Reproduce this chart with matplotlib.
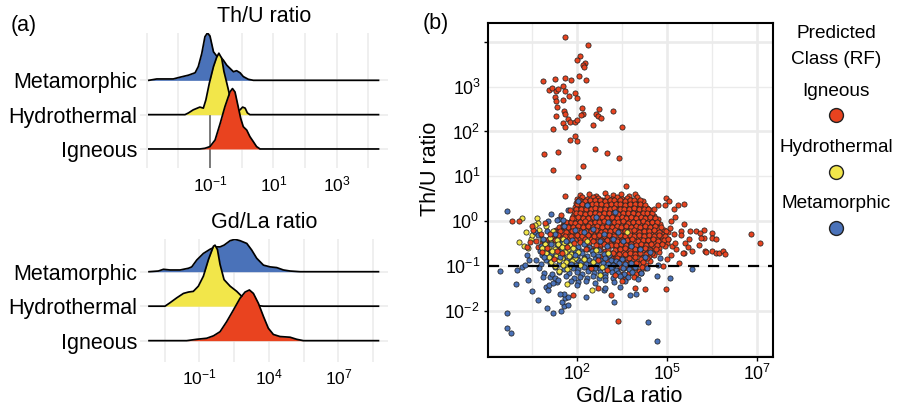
import matplotlib
matplotlib.use('Agg')
import matplotlib.pyplot as plt
import numpy as np
from matplotlib.ticker import FixedLocator, FixedFormatter, NullFormatter

plt.rcParams['font.family'] = ['Liberation Sans', 'DejaVu Sans']
plt.rcParams['mathtext.fontset'] = 'custom'
plt.rcParams['mathtext.rm'] = 'Liberation Sans'
plt.rcParams['mathtext.it'] = 'Liberation Sans:italic'
plt.rcParams['mathtext.bf'] = 'Liberation Sans:bold'
plt.rcParams['mathtext.sf'] = 'Liberation Sans'

W, H = 899, 409

classes = ['Igneous', 'Hydrothermal', 'Metamorphic']
colors = {'Igneous': '#E9431F', 'Hydrothermal': '#F2E64A', 'Metamorphic': '#4A72B9'}

# ---- ridge densities, Th/U (x = log10 ratio, h = height in row units)
thu_x_meta = [-2.93, -2.68, -2.16, -1.95, -1.68, -1.47, -1.37, -1.26, -1.16, -1.08, -1.00, -0.89,
              -0.79, -0.68, -0.58, -0.47, -0.37, -0.26, -0.16, -0.05, 0.05, 0.21, 0.37, 4.32]
thu_h_meta = [0.00, 0.04, 0.04, 0.09, 0.15, 0.22, 0.40, 0.78, 1.27, 1.38, 1.29, 0.83,
              0.71, 0.69, 0.59, 0.44, 0.35, 0.25, 0.28, 0.22, 0.11, 0.03, 0.00, 0.00]
thu_x_hydro = [-2.93, -1.79, -1.68, -1.53, -1.32, -1.21, -1.13, -1.02, -0.89, -0.79, -0.72, -0.63,
               -0.56, -0.47, -0.37, -0.26, -0.14, -0.05, 0.03, 0.11, 0.18, 0.26, 4.32]
thu_h_hydro = [0.00, 0.00, 0.05, 0.14, 0.22, 0.19, 0.43, 0.92, 1.40, 1.67, 1.79, 1.64,
               1.26, 0.92, 0.53, 0.24, 0.10, 0.14, 0.22, 0.19, 0.05, 0.00, 0.00]
thu_x_ign = [-2.93, -1.32, -1.16, -1.00, -0.84, -0.68, -0.53, -0.37, -0.29, -0.21, -0.11, -0.03,
             0.05, 0.16, 0.26, 0.37, 0.47, 0.58, 4.32]
thu_h_ign = [0.00, 0.00, 0.02, 0.07, 0.26, 0.74, 1.23, 1.66, 1.76, 1.66, 1.23, 0.89,
             0.65, 0.55, 0.36, 0.21, 0.07, 0.00, 0.00]

# ---- ridge densities, Gd/La
gd_x_meta = [-3.90, -3.36, -3.07, -2.69, -2.11, -1.63, -1.44, -1.15, -0.77, -0.39, -0.10, 0.19, 0.42,
             0.77, 1.05, 1.34, 1.73, 2.01, 2.30, 2.69, 3.07, 3.45, 3.84, 4.22, 4.80, 9.31]
gd_h_meta = [0.00, 0.02, 0.07, 0.05, 0.05, 0.10, 0.14, 0.34, 0.53, 0.65, 0.72, 0.72, 0.77,
             0.90, 0.94, 0.90, 0.82, 0.63, 0.39, 0.19, 0.14, 0.12, 0.05, 0.02, 0.00, 0.00]
gd_x_hydro = [-3.90, -2.98, -2.69, -2.31, -1.92, -1.63, -1.35, -1.06, -0.77, -0.48, -0.19, -0.10,
              0.04, 0.19, 0.42, 0.77, 1.15, 1.53, 1.92, 2.30, 2.69, 9.31]
gd_h_hydro = [0.00, 0.00, 0.10, 0.24, 0.37, 0.41, 0.43, 0.58, 0.87, 1.35, 1.74, 1.77,
              1.64, 1.21, 0.77, 0.58, 0.43, 0.24, 0.10, 0.02, 0.00, 0.00]
gd_x_ign = [-3.90, -1.73, -1.15, -0.58, -0.19, 0.19, 0.57, 0.96, 1.34, 1.63, 1.88, 2.11, 2.40,
            2.69, 2.97, 3.26, 3.64, 4.22, 4.60, 4.99, 9.31]
gd_h_ign = [0.00, 0.00, 0.04, 0.07, 0.14, 0.26, 0.55, 0.89, 1.23, 1.41, 1.47, 1.37, 1.08,
            0.70, 0.36, 0.18, 0.12, 0.10, 0.04, 0.00, 0.00]

thu_ticks = [-3, -2, -1, 0, 1, 2, 3, 4]
thu_labels = ['', '', r'$10^{-1}$', '', r'$10^{1}$', '', r'$10^{3}$', '']
gd_ticks = [-3, -1, 1, 3, 5, 7, 9]
gd_labels = ['', r'$10^{-1}$', '', r'$10^{4}$', '', r'$10^{7}$', '']

# ---- scatter points (log10 Gd/La, log10 Th/U)
ign_outliers = [(1.68, 4.10), (2.32, 3.94), (2.09, 3.68), (2.00, 3.59), (2.23, 3.53), (2.17, 3.48),
                (2.20, 3.43), (1.06, 3.13), (1.40, 3.17), (1.68, 3.19), (1.85, 3.15), (2.06, 3.24),
                (2.26, 3.16), (1.22, 2.92), (1.31, 2.97), (1.42, 2.91), (1.47, 2.95), (1.62, 3.02),
                (1.68, 2.91), (1.78, 2.80), (1.95, 2.86), (2.00, 2.74), (1.40, 2.77), (1.42, 2.68),
                (1.62, 2.71), (1.45, 2.54), (2.15, 2.52), (1.65, 2.46), (1.68, 2.39), (1.43, 2.34),
                (1.75, 2.28), (2.18, 2.39), (2.12, 2.37), (2.63, 2.51), (2.53, 2.40), (2.60, 2.34),
                (2.67, 2.31), (3.01, 2.46), (1.82, 2.22), (1.96, 2.22), (2.02, 2.25), (1.63, 2.19),
                (1.68, 2.10), (1.35, 2.06), (2.46, 2.15), (3.27, 2.11), (1.95, 1.90), (1.81, 1.81),
                (2.01, 1.79), (2.52, 1.61), (2.85, 1.52), (3.17, 1.40), (1.10, 1.50), (1.49, 1.54),
                (1.35, 1.15), (2.18, 1.23), (2.04, 0.98), (3.36, 0.78), (1.68, 0.57),
                (6.84, -0.28), (7.09, -0.50)]
ign_side = [(0.21, 0.01), (0.41, 0.01), (0.62, -0.58), (0.70, -0.46), (0.79, -0.20), (1.12, -0.04),
            (1.57, 0.14), (1.81, 0.25), (1.86, 0.06), (0.75, -0.12), (1.00, -0.30), (0.88, -0.45),
            (3.63, -1.50), (2.95, -1.65), (2.60, -1.50), (1.91, -1.65), (3.16, -2.23), (4.49, -1.52),
            (3.90, -1.52), (3.07, -1.21), (3.25, -1.35), (4.85, -0.94),
            (1.18, -0.60), (1.45, -0.66), (1.72, -0.58), (1.38, -0.85), (1.60, -0.72), (1.92, -0.50),
            (1.25, -0.30), (1.05, -0.70), (2.25, -0.62), (2.60, -0.88), (2.40, -1.05), (2.85, -1.10)]
ign_core = [
    (2.10, 0.58), (2.35, 0.61), (2.55, 0.57), (2.78, 0.62), (3.00, 0.59), (3.22, 0.60), (3.45, 0.57),
    (3.62, 0.61),
    (2.02, 0.50), (2.16, 0.53), (2.30, 0.49), (2.44, 0.54), (2.58, 0.51), (2.71, 0.48), (2.85, 0.53),
    (2.99, 0.50), (3.12, 0.54), (3.26, 0.49), (3.40, 0.52), (3.53, 0.48), (3.68, 0.53),
    (1.98, 0.41), (2.11, 0.44), (2.24, 0.40), (2.38, 0.45), (2.50, 0.42), (2.64, 0.39), (2.77, 0.44),
    (2.90, 0.41), (3.04, 0.45), (3.18, 0.40), (3.31, 0.43), (3.45, 0.39), (3.58, 0.44), (3.72, 0.41),
    (3.85, 0.45),
    (1.95, 0.31), (2.08, 0.35), (2.21, 0.32), (2.35, 0.29), (2.48, 0.34), (2.61, 0.31), (2.74, 0.35),
    (2.88, 0.30), (3.01, 0.33), (3.14, 0.36), (3.28, 0.31), (3.41, 0.34), (3.55, 0.30), (3.68, 0.35),
    (3.82, 0.32), (3.95, 0.30),
    (1.92, 0.21), (2.05, 0.25), (2.19, 0.22), (2.32, 0.19), (2.45, 0.24), (2.58, 0.21), (2.72, 0.26),
    (2.85, 0.20), (2.98, 0.23), (3.12, 0.25), (3.25, 0.20), (3.38, 0.24), (3.52, 0.21), (3.65, 0.26),
    (3.79, 0.22), (3.92, 0.19), (4.05, 0.24),
    (1.90, 0.11), (2.03, 0.15), (2.16, 0.12), (2.29, 0.09), (2.42, 0.14), (2.56, 0.11), (2.69, 0.16),
    (2.82, 0.10), (2.96, 0.13), (3.09, 0.15), (3.22, 0.10), (3.36, 0.14), (3.49, 0.11), (3.62, 0.16),
    (3.76, 0.12), (3.89, 0.09), (4.02, 0.14), (4.15, 0.11),
    (1.85, 0.01), (1.98, 0.05), (2.11, 0.02), (2.25, -0.01), (2.38, 0.04), (2.51, 0.01), (2.64, 0.06),
    (2.78, 0.00), (2.91, 0.03), (3.04, 0.05), (3.18, 0.00), (3.31, 0.04), (3.44, 0.01), (3.58, 0.06),
    (3.71, 0.02), (3.84, -0.01), (3.98, 0.04), (4.11, 0.01), (4.25, 0.05),
    (1.62, -0.09), (1.76, -0.05), (1.90, -0.08), (2.03, -0.11), (2.16, -0.06), (2.30, -0.09),
    (2.43, -0.04), (2.56, -0.10), (2.70, -0.07), (2.83, -0.05), (2.96, -0.10), (3.10, -0.06),
    (3.23, -0.09), (3.36, -0.04), (3.50, -0.08), (3.63, -0.11), (3.76, -0.06), (3.90, -0.09),
    (4.03, -0.05), (4.17, -0.08), (4.32, -0.06),
    (1.42, -0.19), (1.56, -0.15), (1.70, -0.18), (1.84, -0.21), (1.97, -0.16), (2.10, -0.19),
    (2.24, -0.14), (2.37, -0.20), (2.50, -0.17), (2.64, -0.15), (2.77, -0.20), (2.90, -0.16),
    (3.04, -0.19), (3.17, -0.14), (3.30, -0.18), (3.44, -0.21), (3.57, -0.16), (3.70, -0.19),
    (3.84, -0.15), (3.97, -0.18), (4.11, -0.20), (4.25, -0.16), (4.42, -0.19),
    (1.30, -0.29), (1.46, -0.25), (1.62, -0.28), (1.78, -0.31), (1.93, -0.26), (2.06, -0.29),
    (2.20, -0.24), (2.33, -0.30), (2.46, -0.27), (2.60, -0.25), (2.73, -0.30), (2.86, -0.26),
    (3.00, -0.29), (3.13, -0.24), (3.26, -0.28), (3.40, -0.31), (3.53, -0.26), (3.66, -0.29),
    (3.80, -0.25), (3.93, -0.28), (4.07, -0.30), (4.22, -0.26), (4.38, -0.29), (4.55, -0.25),
    (1.22, -0.39), (1.40, -0.35), (1.58, -0.38), (1.75, -0.41), (1.92, -0.36), (2.08, -0.39),
    (2.24, -0.34), (2.40, -0.40), (2.56, -0.37), (2.70, -0.35), (2.84, -0.40), (2.98, -0.36),
    (3.12, -0.39), (3.26, -0.34), (3.40, -0.38), (3.53, -0.41), (3.66, -0.36), (3.80, -0.39),
    (3.94, -0.35), (4.08, -0.38), (4.22, -0.40), (4.38, -0.36), (4.55, -0.39),
    (1.05, -0.49), (1.28, -0.45), (1.50, -0.48), (1.72, -0.51), (2.10, -0.46), (2.34, -0.49),
    (2.58, -0.44), (2.76, -0.50), (2.92, -0.47), (3.06, -0.45), (3.20, -0.50), (3.34, -0.46),
    (3.48, -0.49), (3.62, -0.44), (3.76, -0.48), (3.90, -0.51), (4.04, -0.46), (4.18, -0.49),
    (4.34, -0.45), (4.50, -0.48),
    (0.92, -0.59), (1.20, -0.55), (1.55, -0.58), (2.40, -0.61), (2.66, -0.56), (2.86, -0.59),
    (3.02, -0.54), (3.16, -0.60), (3.30, -0.57), (3.44, -0.55), (3.58, -0.60), (3.72, -0.56),
    (3.86, -0.59), (4.00, -0.54), (4.14, -0.58), (4.30, -0.61), (4.45, -0.56),
    (1.30, -0.69), (2.50, -0.65), (2.78, -0.68), (2.98, -0.71), (3.14, -0.66), (3.28, -0.69),
    (3.42, -0.64), (3.56, -0.70), (3.70, -0.67), (3.84, -0.65), (3.98, -0.70), (4.12, -0.66),
    (4.28, -0.69),
    (2.68, -0.79), (2.92, -0.75), (3.10, -0.78), (3.26, -0.81), (3.40, -0.76), (3.55, -0.79),
    (3.70, -0.74), (3.85, -0.80), (4.00, -0.77), (4.16, -0.75),
    (2.85, -0.89), (3.05, -0.85), (3.22, -0.88), (3.38, -0.91), (3.54, -0.86), (3.70, -0.89),
    (3.86, -0.84), (4.04, -0.90),
    (3.00, -0.99), (3.20, -0.95), (3.38, -0.98), (3.56, -1.01), (3.74, -0.96), (3.92, -0.99),
    (3.12, -1.09), (3.32, -1.05), (3.52, -1.08), (3.72, -1.11), (3.90, -1.06),
    (3.25, -1.19), (3.45, -1.15), (3.65, -1.18), (3.35, -1.29), (3.58, -1.25)]
# second, offset layer of the dense igneous cloud
ign_core_b = [
    (2.06, 0.47), (2.23, 0.45), (2.37, 0.48), (2.51, 0.46), (2.64, 0.47), (2.78, 0.45), (2.92, 0.48),
    (3.05, 0.46), (3.19, 0.47), (3.33, 0.45), (3.47, 0.48), (3.60, 0.46), (3.76, 0.47),
    (2.02, 0.37), (2.15, 0.39), (2.28, 0.36), (2.42, 0.38), (2.55, 0.37), (2.68, 0.39), (2.81, 0.36),
    (2.95, 0.38), (3.08, 0.37), (3.21, 0.39), (3.35, 0.36), (3.48, 0.38), (3.62, 0.37), (3.75, 0.39),
    (3.89, 0.36),
    (1.99, 0.27), (2.12, 0.28), (2.26, 0.26), (2.39, 0.27), (2.52, 0.29), (2.65, 0.26), (2.79, 0.28),
    (2.92, 0.27), (3.05, 0.29), (3.19, 0.26), (3.32, 0.28), (3.45, 0.27), (3.59, 0.29), (3.72, 0.26),
    (3.86, 0.28), (3.99, 0.27),
    (1.97, 0.17), (2.10, 0.18), (2.23, 0.16), (2.36, 0.17), (2.50, 0.19), (2.63, 0.16), (2.76, 0.18),
    (2.89, 0.17), (3.03, 0.19), (3.16, 0.16), (3.29, 0.18), (3.43, 0.17), (3.56, 0.19), (3.69, 0.16),
    (3.83, 0.18), (3.96, 0.17), (4.09, 0.19),
    (1.92, 0.07), (2.05, 0.08), (2.18, 0.06), (2.32, 0.07), (2.45, 0.09), (2.58, 0.06), (2.71, 0.08),
    (2.85, 0.07), (2.98, 0.09), (3.11, 0.06), (3.25, 0.08), (3.38, 0.07), (3.51, 0.09), (3.65, 0.06),
    (3.78, 0.08), (3.91, 0.07), (4.05, 0.09), (4.18, 0.06),
    (1.70, -0.03), (1.83, -0.02), (1.96, -0.04), (2.10, -0.03), (2.23, -0.01), (2.36, -0.04),
    (2.50, -0.02), (2.63, -0.03), (2.76, -0.01), (2.90, -0.04), (3.03, -0.02), (3.16, -0.03),
    (3.30, -0.01), (3.43, -0.04), (3.56, -0.02), (3.70, -0.03), (3.83, -0.01), (3.96, -0.04),
    (4.10, -0.02), (4.24, -0.03),
    (1.50, -0.13), (1.63, -0.12), (1.77, -0.14), (1.91, -0.13), (2.04, -0.11), (2.17, -0.14),
    (2.31, -0.12), (2.44, -0.13), (2.57, -0.11), (2.71, -0.14), (2.84, -0.12), (2.97, -0.13),
    (3.11, -0.11), (3.24, -0.14), (3.37, -0.12), (3.51, -0.13), (3.64, -0.11), (3.77, -0.14),
    (3.91, -0.12), (4.04, -0.13), (4.18, -0.11), (4.34, -0.14),
    (1.38, -0.23), (1.54, -0.22), (1.70, -0.24), (1.86, -0.23), (2.00, -0.21), (2.13, -0.24),
    (2.27, -0.22), (2.40, -0.23), (2.53, -0.21), (2.67, -0.24), (2.80, -0.22), (2.93, -0.23),
    (3.07, -0.21), (3.20, -0.24), (3.33, -0.22), (3.47, -0.23), (3.60, -0.21), (3.73, -0.24),
    (3.87, -0.22), (4.00, -0.23), (4.15, -0.21), (4.30, -0.24), (4.47, -0.22),
    (1.31, -0.33), (1.49, -0.32), (1.67, -0.34), (1.84, -0.33), (2.00, -0.31), (2.16, -0.34),
    (2.32, -0.32), (2.48, -0.33), (2.63, -0.31), (2.77, -0.34), (2.91, -0.32), (3.05, -0.33),
    (3.19, -0.31), (3.33, -0.34), (3.47, -0.32), (3.60, -0.33), (3.73, -0.31), (3.87, -0.34),
    (4.01, -0.32), (4.15, -0.33), (4.30, -0.31), (4.46, -0.34),
    (1.16, -0.43), (1.39, -0.42), (1.61, -0.44), (1.95, -0.43), (2.22, -0.41), (2.46, -0.44),
    (2.67, -0.42), (2.84, -0.43), (2.99, -0.41), (3.13, -0.44), (3.27, -0.42), (3.41, -0.43),
    (3.55, -0.41), (3.69, -0.44), (3.83, -0.42), (3.97, -0.43), (4.11, -0.41), (4.26, -0.44),
    (4.42, -0.42),
    (2.53, -0.53), (2.76, -0.52), (2.94, -0.54), (3.09, -0.53), (3.23, -0.51), (3.37, -0.54),
    (3.51, -0.52), (3.65, -0.53), (3.79, -0.51), (3.93, -0.54), (4.07, -0.52), (4.22, -0.53),
    (4.38, -0.51),
    (2.64, -0.63), (2.88, -0.62), (3.06, -0.64), (3.21, -0.63), (3.35, -0.61), (3.49, -0.64),
    (3.63, -0.62), (3.77, -0.63), (3.91, -0.61), (4.05, -0.64), (4.20, -0.62),
    (2.80, -0.73), (3.01, -0.72), (3.18, -0.74), (3.33, -0.73), (3.48, -0.71), (3.62, -0.74),
    (3.77, -0.72), (3.92, -0.73), (4.08, -0.71),
    (2.95, -0.83), (3.13, -0.82), (3.30, -0.84), (3.46, -0.83), (3.62, -0.81), (3.78, -0.84),
    (3.95, -0.82),
    (3.10, -0.93), (3.29, -0.92), (3.47, -0.94), (3.65, -0.93), (3.83, -0.91),
    (3.22, -1.03), (3.42, -1.02), (3.62, -1.04), (3.81, -1.03)]
ign_tail = [(4.47, 0.51), (4.57, 0.45), (4.27, 0.36), (4.16, 0.28), (4.44, 0.36), (4.81, 0.36),
            (4.99, 0.39), (4.69, 0.26), (4.73, 0.08), (4.99, -0.07), (4.90, -0.22), (4.90, -0.32),
            (5.16, -0.22), (5.31, -0.22), (5.54, -0.20), (5.43, -0.27), (5.54, -0.38), (5.46, -0.38),
            (5.75, -0.27), (5.75, -0.37), (5.86, -0.39), (5.12, -0.39), (5.01, -0.48), (5.40, -0.54),
            (5.10, -0.57), (5.19, -0.66), (4.99, -0.72), (5.56, -0.66), (5.60, -0.70), (5.75, -0.68),
            (5.87, -0.71), (5.95, -0.71), (6.06, -0.66), (6.12, -0.74), (4.76, -0.62), (4.65, -0.55),
            (4.73, -0.48), (4.96, -0.72), (4.60, -0.15), (4.62, 0.00), (4.55, -0.40), (4.70, -0.30),
            (4.62, -0.75), (4.50, -0.85), (4.40, -1.00)]

meta_core = [
    (1.10, -0.44), (1.60, -0.47), (1.88, -0.43),
    (1.00, -0.56), (1.45, -0.53), (2.05, -0.57), (2.20, -0.52), (2.35, -0.58),
    (0.98, -0.66), (1.20, -0.63), (1.55, -0.67), (1.95, -0.64), (2.12, -0.68), (2.28, -0.62),
    (2.42, -0.67), (2.62, -0.64),
    (1.05, -0.76), (1.28, -0.73), (1.62, -0.77), (1.85, -0.74), (2.00, -0.78), (2.15, -0.72),
    (2.30, -0.77), (2.45, -0.74), (2.60, -0.78), (2.75, -0.73), (2.90, -0.76),
    (1.15, -0.86), (1.35, -0.83), (1.72, -0.87), (1.90, -0.84), (2.05, -0.88), (2.20, -0.82),
    (2.35, -0.87), (2.50, -0.84), (2.65, -0.88), (2.80, -0.83), (2.95, -0.86), (3.10, -0.89),
    (3.25, -0.84),
    (1.00, -0.96), (1.25, -0.93), (1.50, -0.97), (1.80, -0.94), (1.98, -0.98), (2.12, -0.92),
    (2.27, -0.97), (2.42, -0.94), (2.57, -0.98), (2.72, -0.93), (2.87, -0.96), (3.02, -0.99),
    (3.18, -0.94), (3.35, -0.97), (3.50, -0.93),
    (0.95, -1.06), (1.40, -1.03), (1.65, -1.07), (1.90, -1.04), (2.05, -1.08), (2.20, -1.02),
    (2.35, -1.07), (2.50, -1.04), (2.65, -1.08), (2.80, -1.03), (2.95, -1.06), (3.10, -1.09),
    (3.28, -1.04), (3.45, -1.07), (3.62, -1.03),
    (1.10, -1.16), (1.52, -1.13), (1.80, -1.17), (2.00, -1.14), (2.15, -1.18), (2.32, -1.12),
    (2.48, -1.17), (2.64, -1.14), (2.80, -1.18), (2.97, -1.13), (3.14, -1.16), (3.32, -1.19),
    (3.55, -1.14), (3.78, -1.17),
    (1.25, -1.26), (1.70, -1.23), (1.92, -1.27), (2.10, -1.24), (2.28, -1.28), (2.45, -1.22),
    (2.62, -1.27), (2.80, -1.24), (3.00, -1.28), (3.20, -1.23), (3.42, -1.26), (3.70, -1.29),
    (1.45, -1.36), (1.85, -1.33), (2.05, -1.37), (2.25, -1.34), (2.52, -1.38), (2.78, -1.32),
    (3.05, -1.36), (3.35, -1.33)]
meta_mixed = [(1.29, 0.15), (1.50, 0.05), (1.65, -0.10), (1.95, -0.20), (2.20, -0.25), (2.45, -0.18),
              (2.75, -0.30), (2.88, -0.02), (3.06, 0.20), (3.00, -0.40), (3.30, -0.45), (2.55, 0.10),
              (2.30, 0.35), (1.75, 0.25), (1.40, -0.30), (2.05, 0.45), (3.50, -0.55), (3.75, -0.62),
              (4.05, -0.70), (4.27, -0.98), (4.31, -0.83), (3.90, -0.80), (3.80, -1.17), (3.95, -1.05),
              (1.17, -0.23), (0.84, -0.24), (0.93, -0.31), (1.07, -0.39), (1.20, 0.00), (1.45, 0.02),
              (1.62, 0.03), (2.65, -0.45), (2.85, -0.55), (3.15, -0.25),
              (1.28, -0.52), (1.55, -0.80), (1.85, -0.95), (1.10, -0.80), (1.70, -0.45), (1.95, -0.75)]
meta_outliers = [(0.07, 0.22), (-0.13, -1.12), (0.07, -2.06), (0.07, -2.40), (0.17, -2.51), (0.31, -1.41),
                 (0.33, -1.09), (0.49, -1.02), (0.56, -0.98), (0.61, -0.76), (0.69, -0.87), (0.86, -0.87),
                 (0.66, -1.32), (0.77, -1.56), (0.93, -1.76), (1.19, -1.94), (1.35, -2.06), (1.57, -2.02),
                 (1.64, -1.90), (1.76, -1.88), (1.60, -1.80), (1.69, -1.73), (1.76, -1.69), (1.64, -1.62),
                 (1.55, -1.62), (1.16, -1.47), (1.20, -1.54), (1.23, -1.43), (2.00, -1.43), (2.26, -1.69),
                 (2.77, -1.54), (3.04, -1.80), (3.20, -1.48), (3.48, -1.65), (3.64, -1.63), (2.80, -1.50),
                 (3.99, -2.26), (4.22, -2.68), (4.59, -1.27), (4.24, -1.23), (5.19, -1.07), (1.07, -1.24),
                 (1.31, -1.18), (1.40, -1.28), (1.49, -1.32), (1.35, -1.39)]

hydro_pts = [(0.47, 0.07), (0.40, -0.46), (0.89, 0.06), (0.93, -0.05), (0.84, -0.09), (0.72, -0.39),
             (0.65, -0.61), (0.76, -0.31), (0.55, -0.55), (0.60, -0.25), (0.95, -0.20), (1.35, -0.22),
             (1.15, -0.10),
             (1.05, -0.41), (1.25, -0.38), (1.45, -0.42), (1.62, -0.39),
             (1.12, -0.51), (1.30, -0.48), (1.48, -0.52), (1.66, -0.49), (1.82, -0.53),
             (1.05, -0.61), (1.22, -0.58), (1.40, -0.62), (1.58, -0.59), (1.75, -0.63), (1.90, -0.60),
             (1.15, -0.71), (1.32, -0.68), (1.50, -0.72), (1.68, -0.69), (1.85, -0.73), (2.05, -0.70),
             (1.22, -0.81), (1.42, -0.78), (1.60, -0.82), (1.78, -0.79), (1.95, -0.83),
             (1.30, -0.91), (1.52, -0.88), (1.70, -0.92), (1.88, -0.89),
             (1.40, -1.01), (1.62, -0.98), (1.80, -1.02), (2.10, -0.99),
             (1.50, -1.11), (1.72, -1.08),
             (1.74, -1.40), (2.42, -1.54), (2.65, -1.21), (2.69, -1.02), (2.88, -0.72), (2.30, -0.45),
             (2.55, -0.65), (2.20, -0.85), (2.45, -0.92), (3.41, -0.24)]

gd_major = [2, 4.5, 7]
gd_major_labels = [r'$10^{2}$', r'$10^{5}$', r'$10^{7}$']
gd_minor = [0.75, 3.25, 5.75]
thu_major = [-2, 0, 2, 4]
thu_major_labels = [r'$10^{-2}$', r'$10^{0}$', r'$10^{2}$', '']
thu_minor = [-3, -1, 1, 3]
thu_minor_labels = ['', r'$10^{-1}$', r'$10^{1}$', r'$10^{3}$']


def fx(px):
    return px / W


def fy(py):
    return 1 - py / H


def ridge_panel(ax, curves, xlim, ylim, ticks, labels):
    # curves ordered top row first so lower rows overlap the ones above
    for i, (xs, hs, name, row) in enumerate(curves):
        xs = np.array(xs)
        top = row + np.array(hs)
        ax.fill_between(xs, row, top, color=colors[name], lw=0, zorder=3 + i)
        ax.plot(xs, top, color='black', lw=1.25, zorder=3 + i, solid_joinstyle='round')
    ax.set_xlim(*xlim)
    ax.set_ylim(*ylim)
    ax.set_xticks(ticks)
    ax.set_xticklabels(labels)
    ax.set_yticks([1, 2, 3])
    ax.set_yticklabels(classes)
    ax.tick_params(axis='x', length=0, labelsize=12.5, pad=4.5)
    ax.tick_params(axis='y', length=0, labelsize=15.5, pad=2)
    ax.grid(True, color='#EBEBEB', lw=1.1)
    ax.set_axisbelow(True)
    for s in ax.spines.values():
        s.set_visible(False)


def scatter_group(ax, pts, name):
    arr = np.array(pts)
    ax.scatter(10 ** arr[:, 0], 10 ** arr[:, 1], s=14, c=colors[name],
               edgecolors='#222222', linewidths=0.55, zorder=3)


fig = plt.figure(figsize=(W / 100, H / 100), dpi=100)

ax_thu = fig.add_axes([fx(140), fy(168.3), 248 / W, 135 / H])
ridge_panel(ax_thu,
            [(thu_x_meta, thu_h_meta, 'Metamorphic', 3),
             (thu_x_hydro, thu_h_hydro, 'Hydrothermal', 2),
             (thu_x_ign, thu_h_ign, 'Igneous', 1)],
            (-3.21, 4.62), (0.437, 4.37), thu_ticks, thu_labels)
ax_thu.plot([-1, -1], [0.437, 2], color='#666666', lw=1.2, zorder=2)

ax_gd = fig.add_axes([fx(140), fy(361.7), 248 / W, 122.4 / H])
ridge_panel(ax_gd,
            [(gd_x_meta, gd_h_meta, 'Metamorphic', 3),
             (gd_x_hydro, gd_h_hydro, 'Hydrothermal', 2),
             (gd_x_ign, gd_h_ign, 'Igneous', 1)],
            (-4.42, 9.86), (0.39, 3.94), gd_ticks, gd_labels)

# ---- scatter
ax = fig.add_axes([fx(487.7), fy(356.7), 285.6 / W, 334 / H])
scatter_group(ax, ign_core + ign_core_b + ign_tail, 'Igneous')
scatter_group(ax, meta_core, 'Metamorphic')
scatter_group(ax, hydro_pts, 'Hydrothermal')
scatter_group(ax, meta_mixed + meta_outliers, 'Metamorphic')
scatter_group(ax, ign_side + ign_outliers, 'Igneous')
ax.axhline(0.1, color='black', lw=1.6, dashes=(5, 4), zorder=4)
ax.set_xscale('log')
ax.set_yscale('log')
ax.set_xlim(10 ** -0.47, 10 ** 7.46)
ax.set_ylim(10 ** -3.03, 10 ** 4.43)
ax.xaxis.set_major_locator(FixedLocator(10 ** np.array(gd_major, dtype=float)))
ax.xaxis.set_major_formatter(FixedFormatter(gd_major_labels))
ax.xaxis.set_minor_locator(FixedLocator(10 ** np.array(gd_minor)))
ax.xaxis.set_minor_formatter(NullFormatter())
ax.yaxis.set_major_locator(FixedLocator(10 ** np.array(thu_major, dtype=float)))
ax.yaxis.set_major_formatter(FixedFormatter(thu_major_labels))
ax.yaxis.set_minor_locator(FixedLocator(10 ** np.array(thu_minor, dtype=float)))
ax.yaxis.set_minor_formatter(FixedFormatter(thu_minor_labels))
ax.tick_params(which='major', length=3, width=1, labelsize=12.8, color='black')
ax.tick_params(which='minor', length=0, labelsize=12.8)
ax.tick_params(axis='x', which='major', pad=2.5)
ax.tick_params(axis='y', which='major', pad=2.7)
ax.tick_params(axis='y', which='minor', pad=4.9)
ax.grid(which='major', color='#EBEBEB', lw=1.9)
ax.grid(which='minor', color='#EBEBEB', lw=0.95)
ax.set_axisbelow(True)
for s in ax.spines.values():
    s.set_linewidth(1.5)
    s.set_color('black')

# ---- text and legend in pixel coordinates
ov = fig.add_axes([0, 0, 1, 1])
ov.set_xlim(0, W)
ov.set_ylim(H, 0)
ov.axis('off')
ov.patch.set_alpha(0)

ov.text(24, 25, '(a)', fontsize=15.5, ha='center', va='center')
ov.text(436, 24, '(b)', fontsize=15.5, ha='center', va='center')
ov.text(264, 17, 'Th/U ratio', fontsize=15.5, ha='center', va='center')
ov.text(264, 223, 'Gd/La ratio', fontsize=15.5, ha='center', va='center')
ov.text(629, 396, 'Gd/La ratio', fontsize=15.5, ha='center', va='center')
ov.text(430, 169, 'Th/U ratio', fontsize=15.5, ha='center', va='center', rotation=90)

ov.text(836, 33, 'Predicted', fontsize=13.7, ha='center', va='center')
ov.text(836, 59, 'Class (RF)', fontsize=13.7, ha='center', va='center')
leg_text_y = [92, 147, 203]
leg_key_y = [115, 171.7, 227.7]
for name, ty, ky in zip(classes, leg_text_y, leg_key_y):
    ov.text(836, ty, name, fontsize=13.7, ha='center', va='center')
    ov.scatter([836], [ky], s=100, c=colors[name], edgecolors='#222222', linewidths=1)

fig.savefig('out.png', dpi=100)
